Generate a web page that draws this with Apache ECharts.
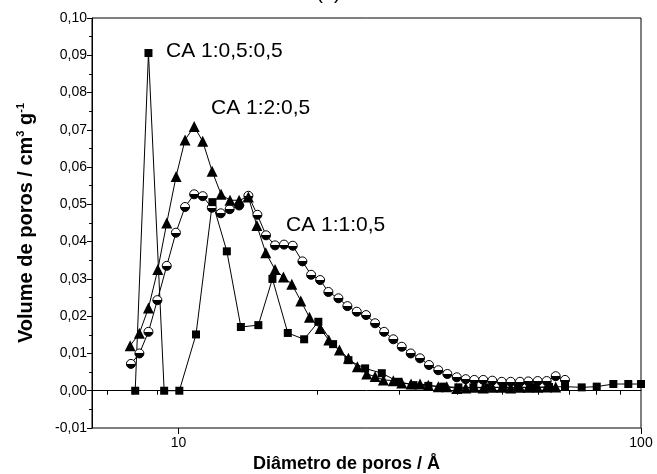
<!DOCTYPE html>
<html>
<head>
<meta charset="utf-8">
<script src="https://cdn.jsdelivr.net/npm/echarts@6/dist/echarts.min.js"></script>
<style>
  html, body { margin: 0; padding: 0; background: #fff; }
  #chart { width: 657px; height: 474px; }
</style>
</head>
<body>
<div id="chart"></div>
<script>
// CA 1:0,5:0,5 (quadrados)
var sqX = [8.06, 8.61, 9.31, 10.04, 10.91, 11.84, 12.72, 13.64, 14.88, 15.96, 17.23, 18.69, 20.06,
  21.59, 23.3, 25.32, 27.51, 29.89, 32.21, 34.68, 37.37, 40.28, 43.41, 46.77, 50.39, 54.22, 58.43,
  63.26, 68.5, 74.44, 80.22, 87.14, 93.87, 100];
var sqY = [0, 0.0906, 0, 0, 0.0151, 0.0506, 0.0374, 0.0171, 0.0176, 0.030, 0.0155, 0.0138, 0.0185,
  0.0125, 0.0082, 0.006, 0.0047, 0.0024, 0.0015, 0.0013, 0.0011, 0.0009, 0.0009, 0.0009, 0.0009,
  0.0009, 0.0009, 0.001, 0.0011, 0.0009, 0.0011, 0.0018, 0.0018, 0.0018];

// CA 1:2:0,5 (triangulos)
var triX = [7.86, 8.23, 8.61, 9.02, 9.43, 9.88, 10.33, 10.81, 11.28, 11.82, 12.36, 12.92, 13.52,
  14.16, 14.77, 15.44, 16.17, 16.86, 17.58, 18.38, 19.19, 20.24, 21.13, 22.28, 23.3, 24.36, 25.53,
  26.61, 27.73, 29.14, 30.39, 31.83, 33.28, 34.68, 36.45, 38.02, 39.96, 41.79, 43.61, 45.6, 47.7,
  49.99, 52.27, 54.75, 57.06, 59.79, 62.53, 65.39];
var triY = [0.0121, 0.0154, 0.0222, 0.0325, 0.0450, 0.0575, 0.0673, 0.0709, 0.0669, 0.0589, 0.0527,
  0.0511, 0.0511, 0.0520, 0.0443, 0.0370, 0.0325, 0.0305, 0.0286, 0.0241, 0.0197, 0.0167, 0.0136,
  0.0109, 0.0087, 0.0064, 0.0045, 0.0038, 0.0029, 0.0027, 0.0021, 0.0018, 0.0018, 0.0015, 0.0011,
  0.0011, 0.0006, 0.0007, 0.0009, 0.0007, 0.0009, 0.0009, 0.0007, 0.0009, 0.0009, 0.0009, 0.001, 0.001];

// CA 1:1:0,5 (circulos)
var cirX = [7.89, 8.23, 8.61, 9.00, 9.43, 9.87, 10.33, 10.81, 11.28, 11.80, 12.34, 12.90, 13.52,
  14.16, 14.81, 15.46, 16.17, 16.91, 17.66, 18.53, 19.35, 20.24, 21.09, 22.17, 23.18, 24.29, 25.44,
  26.61, 27.83, 29.14, 30.39, 31.78, 33.28, 34.8, 36.45, 38.13, 39.96, 41.79, 43.61, 45.6, 47.7,
  49.99, 52.27, 54.75, 57.06, 59.79, 62.53, 65.39, 68.5];
var cirY = [0.0072, 0.0100, 0.0158, 0.0243, 0.0335, 0.0424, 0.0493, 0.0527, 0.0522, 0.0491, 0.0476,
  0.0487, 0.0497, 0.0523, 0.0472, 0.0417, 0.0390, 0.0392, 0.0389, 0.0347, 0.0311, 0.0297, 0.0265,
  0.0248, 0.0227, 0.0212, 0.0203, 0.0181, 0.0158, 0.0138, 0.0118, 0.0100, 0.0087, 0.0069, 0.0055,
  0.0045, 0.0036, 0.0031, 0.0029, 0.0029, 0.0027, 0.0024, 0.0024, 0.0024, 0.0025, 0.0026, 0.0026,
  0.0039, 0.0029];

// marcas do eixo x
var xLabels = [10, 100];
var xMinorTicks = [7, 8, 9, 20, 30, 40, 50, 60, 70, 80, 90];

var seriesNames = ['CA 1:0,5:0,5', 'CA 1:2:0,5', 'CA 1:1:0,5'];

function pairs(xs, ys) {
  return xs.map(function (x, i) { return [x, ys[i]]; });
}

var font = 'Liberation Sans, Arial, sans-serif';
var chart = echarts.init(document.getElementById('chart'));

var halfFill = new echarts.graphic.LinearGradient(0, 0, 0, 1, [
  { offset: 0, color: '#fff' },
  { offset: 0.5, color: '#fff' },
  { offset: 0.5, color: '#000' },
  { offset: 1, color: '#000' }
]);

var option = {
  animation: false,
  backgroundColor: '#fff',
  title: {
    text: '(a)',
    left: 'center',
    top: -22,
    textStyle: { fontFamily: font, fontSize: 20, fontWeight: 'normal', color: '#000' }
  },
  grid: {
    left: 92, right: 16, top: 18, bottom: 46,
    outerBoundsMode: 'none',
    show: true, borderColor: '#000', borderWidth: 1
  },
  xAxis: [{
    type: 'log',
    logBase: 10,
    min: 6.5,
    max: 100,
    name: 'Diâmetro de poros / Å',
    nameLocation: 'middle',
    nameGap: 25,
    nameTextStyle: { fontFamily: font, fontSize: 18, fontWeight: 'bold', color: '#000', padding: [0, 40, 0, 0] },
    axisLine: { lineStyle: { color: '#000', width: 1 } },
    axisTick: { show: true, inside: false, length: 4, customValues: xMinorTicks, lineStyle: { color: '#000' } },
    axisLabel: { customValues: xLabels, fontFamily: font, fontSize: 14, color: '#000', margin: 8 },
    splitLine: { show: false }
  }, {
    type: 'log',
    logBase: 10,
    min: 6.5,
    max: 100,
    position: 'bottom',
    axisLine: { show: false },
    axisTick: { show: true, inside: false, length: 6, customValues: xLabels, lineStyle: { color: '#000' } },
    axisLabel: { show: false },
    splitLine: { show: false }
  }],
  yAxis: {
    type: 'value',
    min: -0.01,
    max: 0.10,
    interval: 0.01,
    name: '{a|Volume de poros / cm}{s|3}{a| g}{s|-1}',
    nameLocation: 'middle',
    nameGap: 55,
    nameTextStyle: {
      color: '#000',
      rich: {
        a: { fontFamily: font, fontSize: 20, fontWeight: 'bold', color: '#000', lineHeight: 22 },
        s: { fontFamily: font, fontSize: 11, fontWeight: 'bold', color: '#000', lineHeight: 22, verticalAlign: 'top' }
      }
    },
    axisLine: { show: true, lineStyle: { color: '#000', width: 1 } },
    axisTick: { show: true, inside: false, length: 5, lineStyle: { color: '#000' } },
    minorTick: { show: true, splitNumber: 2, length: 3, lineStyle: { color: '#000' } },
    axisLabel: {
      fontFamily: font, fontSize: 14, color: '#000', margin: 5,
      formatter: function (v) { return v.toFixed(2).replace('.', ','); }
    },
    splitLine: { show: false }
  },
  graphic: [
    { type: 'text', left: 166, top: 41, style: { text: seriesNames[0], font: '21px ' + font, fill: '#000' } },
    { type: 'text', left: 211, top: 98, style: { text: seriesNames[1], font: '21px ' + font, fill: '#000' } },
    { type: 'text', left: 286, top: 215, style: { text: seriesNames[2], font: '21px ' + font, fill: '#000' } }
  ],
  series: [{
    name: seriesNames[2],
    type: 'line',
    data: pairs(cirX, cirY),
    symbol: 'circle',
    symbolSize: 9,
    lineStyle: { color: '#000', width: 1 },
    itemStyle: { color: halfFill, borderColor: '#000', borderWidth: 1 }
  }, {
    name: seriesNames[1],
    type: 'line',
    data: pairs(triX, triY),
    symbol: 'triangle',
    symbolSize: 11,
    lineStyle: { color: '#000', width: 1 },
    itemStyle: { color: '#000' }
  }, {
    name: seriesNames[0],
    type: 'line',
    data: pairs(sqX, sqY),
    symbol: 'rect',
    symbolSize: 8,
    lineStyle: { color: '#000', width: 1 },
    itemStyle: { color: '#000' }
  }]
};

chart.setOption(option);
</script>
</body>
</html>
